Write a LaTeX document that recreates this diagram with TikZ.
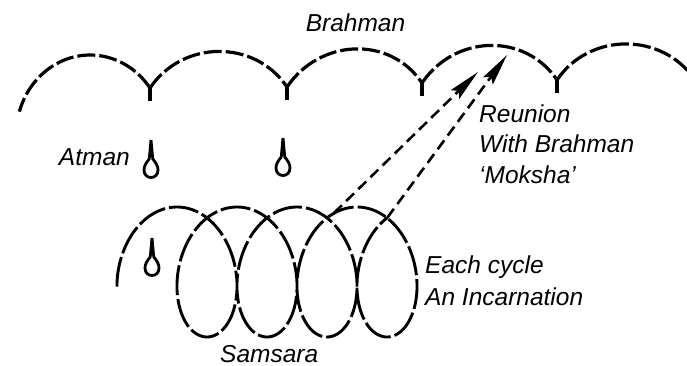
\documentclass[tikz,border=0pt]{standalone}
\usepackage{fontspec}
\setmainfont{Liberation Sans}
\usetikzlibrary{arrows.meta}
\begin{document}
\begin{tikzpicture}[x=1pt,y=-1pt,
  lbl/.style={font=\fontsize{24.5}{29}\selectfont\itshape, inner sep=0pt},
  arch/.style={line width=3.2pt, dash pattern=on 18pt off 4pt},
  coil/.style={line width=2.9pt, dash pattern=on 30pt off 4pt},
  tail/.style={line width=3.4pt},
  dropline/.style={line width=2.8pt},
  ray/.style={line width=2.6pt, dash pattern=on 11pt off 6pt,
    -{Stealth[length=32pt,width=12pt,inset=5pt]}},
  drop/.pic={\draw[dropline] (0,0) .. controls (0.8,8) and (1.2,14) .. (1.8,19)
     .. controls (5,23) and (7,26) .. (7,30) .. controls (7,40) and (-7,40) .. (-7,30)
     .. controls (-7,26) and (-5,23) .. (-1.8,19) .. controls (-1.2,14) and (-0.8,8) .. cycle;}
]
\useasboundingbox (0,0) rectangle (687,366);
\clip (0,0) rectangle (687,366);

% texts
\node[lbl, anchor=base] (brahman) at (355.5,32) {Brahman};
\node[lbl, anchor=base east] (atman) at (130,166) {Atman};
\node[lbl, anchor=base west] (reunion) at (479,123) {Reunion};
\node[lbl, anchor=base west] (withb) at (479,153) {With Brahman};
\node[lbl, anchor=base west] (moksha) at (479,183) {‘Moksha’};
\node[lbl, anchor=base west] (each) at (425,273) {Each cycle};
\node[lbl, anchor=base west] (incarn) at (425,305) {An Incarnation};
\node[lbl, anchor=base west] (samsara) at (220,362) {Samsara};

% Brahman arches
\coordinate (C1) at (150,88);
\coordinate (C2) at (287,87);
\coordinate (C3) at (422,83);
\coordinate (C4) at (557,80);
\coordinate (E) at (695,80);
\draw[arch] (C1) arc[start angle=-36, end angle=-163, x radius=74, y radius=80];
\draw[arch] (C1) .. controls +(-56:58) and +(-124:58) .. (C2);
\draw[arch] (C2) .. controls +(-56:58) and +(-124:58) .. (C3);
\draw[arch] (C3) .. controls +(-56:58) and +(-124:58) .. (C4);
\draw[arch] (C4) .. controls +(-56:58) and +(-124:58) .. (E);
\foreach \c in {C1,C2,C3,C4} \draw[tail] (\c) -- ++(0,13);

% Atman drops
\pic (drop1) at (151,140) {drop};
\pic (drop2) at (283,138) {drop};
\pic (drop3) at (152,238) {drop};

% Samsara coil
\draw[coil] plot[domain=-4.94:21.41, samples=420, variable=\t]
  ({207 + 9.549*\t - 44*sin(\t r)}, {272 + 65*cos(\t r)});

% reunion arrows
\coordinate (X3) at (334,213);
\coordinate (X4) at (387.3,217.7);
\coordinate (T1) at (478,72);
\coordinate (T2) at (507,55);
\draw[ray] (X3) -- (T1);
\draw[ray] (X4) -- (T2);
\end{tikzpicture}
\end{document}
